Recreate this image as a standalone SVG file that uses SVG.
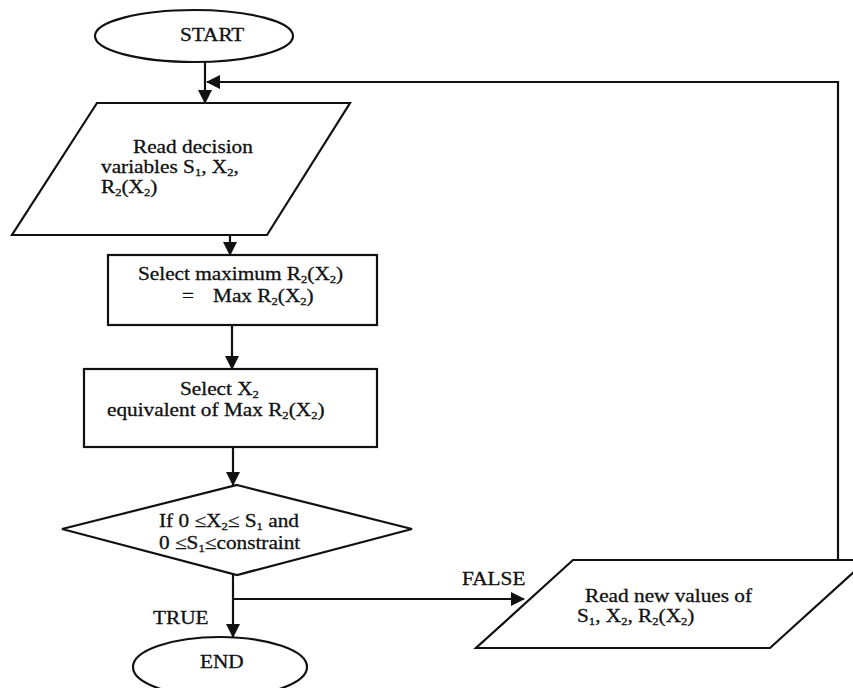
<svg xmlns="http://www.w3.org/2000/svg" width="853" height="688" viewBox="0 0 853 688">
<style>
.sh{fill:#fff;stroke:#111;stroke-width:2.2}
.cn{fill:none;stroke:#111;stroke-width:2.2}
.t{font-family:"Liberation Serif","Times New Roman",serif;font-size:18.5px;fill:#111;stroke:#111;stroke-width:0.3}
.s{font-size:11px}
</style>
<defs>
<marker id="ah" markerUnits="userSpaceOnUse" markerWidth="14" markerHeight="14" viewBox="0 0 14 14" refX="13" refY="7" orient="auto">
<path d="M0,0 L14,7 L0,14 Z" fill="#111"/>
</marker>
</defs>
<rect width="853" height="688" fill="#fff"/>
<g id="connectors">
<line class="cn" x1="205" y1="62" x2="205" y2="103" marker-end="url(#ah)"/>
<polyline class="cn" points="838,560 838,82 207,82" marker-end="url(#ah)"/>
<line class="cn" x1="230" y1="235" x2="230" y2="255" marker-end="url(#ah)"/>
<line class="cn" x1="232" y1="325" x2="232" y2="369" marker-end="url(#ah)"/>
<line class="cn" x1="233" y1="447" x2="233" y2="485" marker-end="url(#ah)"/>
<line class="cn" x1="233" y1="575" x2="233" y2="637" marker-end="url(#ah)"/>
<line class="cn" x1="233" y1="599" x2="524" y2="599" marker-end="url(#ah)"/>
<text class="t" transform="translate(462,585) scale(1.15,1)">FALSE</text>
<text class="t" transform="translate(153,624) scale(1.15,1)">TRUE</text>
</g>
<g id="start">
<ellipse class="sh" cx="194" cy="36" rx="99" ry="26"/>
<text class="t" transform="translate(180,41) scale(1.15,1)">START</text>
</g>
<g id="read-decision">
<polygon class="sh" points="97,103 350,103 267,235 12,235"/>
<text class="t" transform="translate(133,153) scale(1.15,1)">Read decision</text>
<text class="t" transform="translate(101,173) scale(1.15,1)">variables S<tspan class="s" baseline-shift="-2.5">1</tspan>, X<tspan class="s" baseline-shift="-2.5">2</tspan>,</text>
<text class="t" transform="translate(101,193) scale(1.15,1)">R<tspan class="s" baseline-shift="-2.5">2</tspan>(X<tspan class="s" baseline-shift="-2.5">2</tspan>)</text>
</g>
<g id="select-max">
<rect class="sh" x="108" y="255" width="269" height="70"/>
<text class="t" transform="translate(138,280) scale(1.15,1)">Select maximum R<tspan class="s" baseline-shift="-2.5">2</tspan>(X<tspan class="s" baseline-shift="-2.5">2</tspan>)</text>
<text class="t" transform="translate(182,302) scale(1.15,1)">=</text>
<text class="t" transform="translate(213,302) scale(1.15,1)">Max R<tspan class="s" baseline-shift="-2.5">2</tspan>(X<tspan class="s" baseline-shift="-2.5">2</tspan>)</text>
</g>
<g id="select-x2">
<rect class="sh" x="84" y="369" width="293" height="78"/>
<text class="t" transform="translate(180,395) scale(1.15,1)">Select X<tspan class="s" baseline-shift="-2.5">2</tspan></text>
<text class="t" transform="translate(107,416) scale(1.15,1)">equivalent of Max R<tspan class="s" baseline-shift="-2.5">2</tspan>(X<tspan class="s" baseline-shift="-2.5">2</tspan>)</text>
</g>
<g id="decision">
<polygon class="sh" points="237,485 412,529 237,575 62,529"/>
<text class="t" transform="translate(159,527) scale(1.15,1)">If 0 ≤X<tspan class="s" baseline-shift="-2.5">2</tspan>≤ S<tspan class="s" baseline-shift="-2.5">1</tspan> and</text>
<text class="t" transform="translate(159,549) scale(1.15,1)">0 ≤S<tspan class="s" baseline-shift="-2.5">1</tspan>≤constraint</text>
</g>
<g id="read-new">
<polygon class="sh" points="573,560 867,560 770,648 476,648"/>
<text class="t" transform="translate(585,602) scale(1.15,1)">Read new values  of</text>
<text class="t" transform="translate(577,622) scale(1.15,1)">S<tspan class="s" baseline-shift="-2.5">1</tspan>, X<tspan class="s" baseline-shift="-2.5">2</tspan>, R<tspan class="s" baseline-shift="-2.5">2</tspan>(X<tspan class="s" baseline-shift="-2.5">2</tspan>)</text>
</g>
<g id="end">
<ellipse class="sh" cx="220" cy="667" rx="87" ry="30"/>
<text class="t" transform="translate(200,668) scale(1.15,1)">END</text>
</g>
</svg>
